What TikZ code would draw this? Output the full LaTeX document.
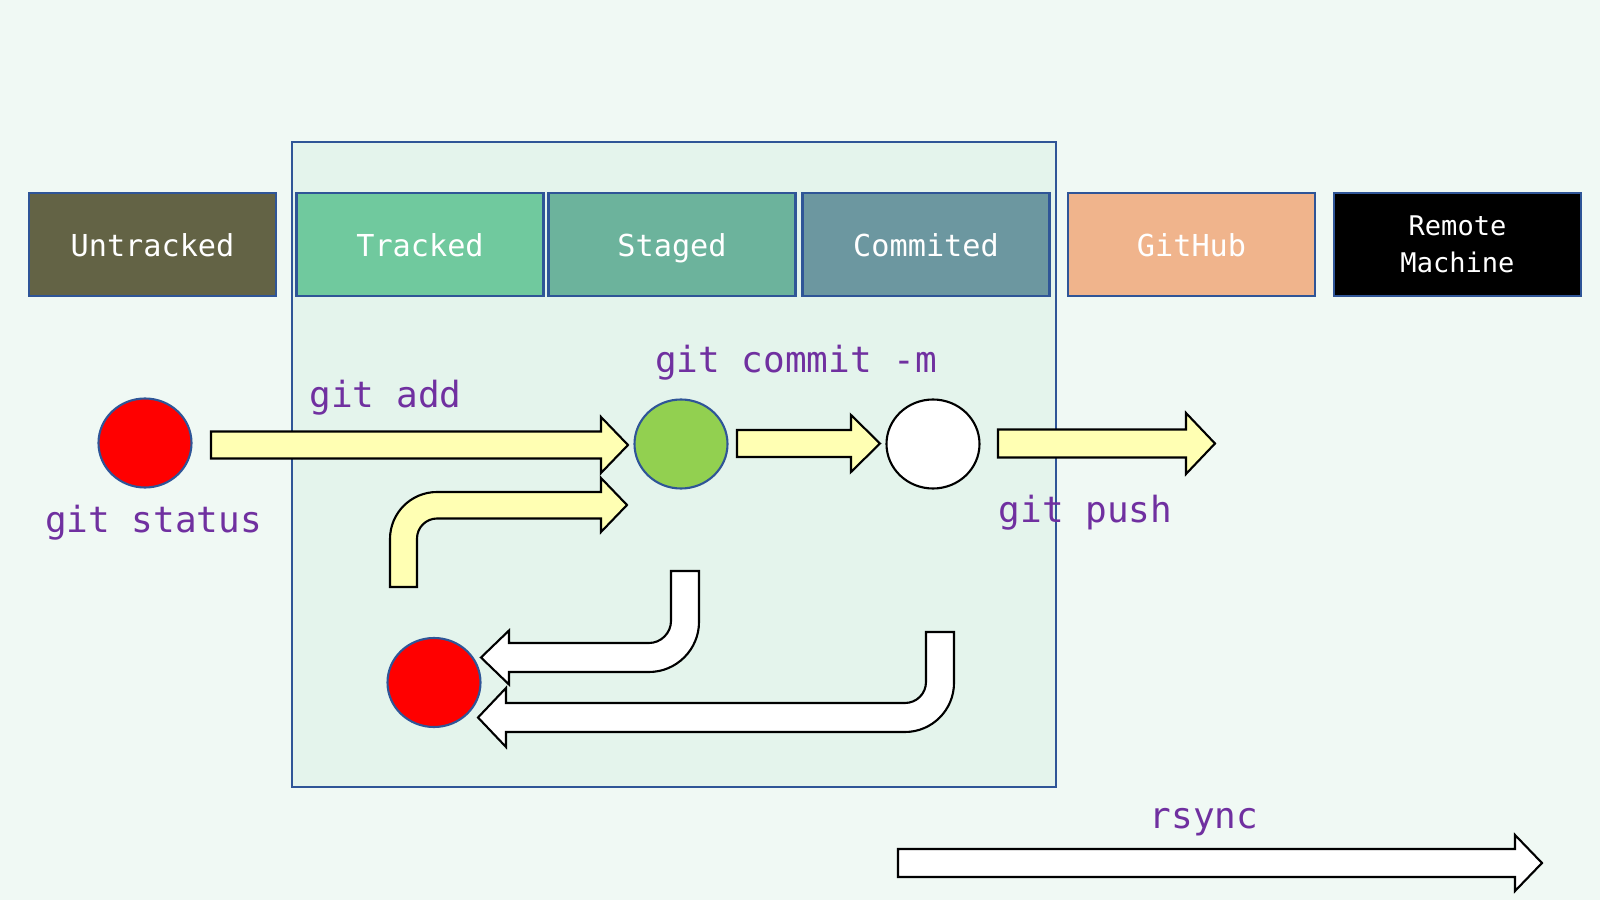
\documentclass[tikz,border=0pt]{standalone}
\usepackage{fontspec}
\setmonofont{DejaVu Sans Mono}
\usepackage{tikz}
\usetikzlibrary{shapes.geometric}

\definecolor{bgmint}{RGB}{240,249,244}
\definecolor{repomint}{RGB}{228,244,236}
\definecolor{boxblue}{RGB}{47,85,151}
\definecolor{untrackedc}{RGB}{99,99,69}
\definecolor{trackedc}{RGB}{112,201,158}
\definecolor{stagedc}{RGB}{108,179,156}
\definecolor{commitedc}{RGB}{108,151,160}
\definecolor{githubc}{RGB}{240,180,140}
\definecolor{cmdpurple}{RGB}{112,48,160}
\definecolor{arrowyellow}{RGB}{255,255,179}
\definecolor{dotgreen}{RGB}{146,208,80}

\tikzset{
  basebox/.style={draw=boxblue, line width=0.6pt, minimum width=24.7mm, minimum height=10.3mm,
    inner sep=0pt, text=white},
  statebox/.style={basebox, text height=1.95ex, text depth=0.4ex, font=\ttfamily\fontsize{8.6}{10}\selectfont},
  filedot/.style={ellipse, draw=boxblue, line width=0.6pt, minimum width=9.3mm, minimum height=8.9mm, inner sep=0pt},
  cmdlabel/.style={text=cmdpurple, font=\ttfamily\fontsize{10.25}{12}\selectfont, inner sep=0pt, anchor=base},
  fwdarrow/.style={draw=black, fill=arrowyellow, line width=0.6pt},
  backarrow/.style={draw=black, fill=white, line width=0.6pt}
}

\begin{document}
\begin{tikzpicture}[x=0.1mm, y=-0.1mm]
\fill[bgmint] (0,0) rectangle (1600,900);
\useasboundingbox (0,0) rectangle (1600,900);

% local repository area
\node[draw=boxblue, fill=repomint, line width=0.6pt, minimum width=76.4mm, minimum height=64.5mm, inner sep=0pt] (repo) at (673.8,464.5) {};

% states
\node[statebox, fill=untrackedc] (untracked) at (152.5,244.5) {Untracked};
\node[statebox, fill=trackedc] (tracked) at (420,244.5) {Tracked};
\node[statebox, fill=stagedc] (staged) at (672,244.5) {Staged};
\node[statebox, fill=commitedc] (commited) at (926,244.5) {Commited};
\node[statebox, fill=githubc] (github) at (1191.5,244.5) {GitHub};
\node[basebox, fill=black, align=center, font=\ttfamily\fontsize{7.7}{10.4}\selectfont] (remote) at (1457.5,244.5) {Remote\\Machine};

% files
\node[filedot, fill=red] (newfile) at (145,443) {};
\node[filedot, fill=dotgreen] (stagedfile) at (681,444) {};
\node[filedot, fill=white, draw=black] (commitfile) at (933,444) {};
\node[filedot, fill=red] (resetfile) at (434,682.5) {};

% forward arrows
\filldraw[fwdarrow] (211,431.5) -- (601,431.5) -- (601,417) -- (628,445) -- (601,473) -- (601,458.5) -- (211,458.5) -- cycle;
\filldraw[fwdarrow] (737,430) -- (851,430) -- (851,415) -- (880,443.5) -- (851,472) -- (851,457) -- (737,457) -- cycle;
\filldraw[fwdarrow] (998,429.5) -- (1186,429.5) -- (1186,413) -- (1215,443.5) -- (1186,474) -- (1186,457.5) -- (998,457.5) -- cycle;
\filldraw[fwdarrow] (390,587) -- (390,539) .. controls (390,513) and (411,492) .. (437,492) -- (601,492) -- (601,478)
  -- (627,505) -- (601,532) -- (601,518.5) -- (437,518.5) .. controls (426,518.5) and (417,527.5) .. (417,538.5) -- (417,587) -- cycle;

% back arrows
\filldraw[backarrow] (671,571) -- (699,571) -- (699,622) .. controls (699,649.5) and (676.5,672) .. (649,672) -- (509,672) -- (509,684.5)
  -- (481,657.5) -- (509,630.5) -- (509,643) -- (649,643) .. controls (661,643) and (671,633) .. (671,621) -- cycle;
\filldraw[backarrow] (926,632) -- (954,632) -- (954,683) .. controls (954,710) and (932,732) .. (905,732) -- (506,732) -- (506,747)
  -- (478,717.5) -- (506,688) -- (506,703) -- (905,703) .. controls (916.6,703) and (926,693.6) .. (926,682) -- cycle;

% rsync
\filldraw[backarrow] (898,849) -- (1515,849) -- (1515,835) -- (1542,863) -- (1515,891) -- (1515,877) -- (898,877) -- cycle;

% commands
\node[cmdlabel] (status) at (153.5,532) {git status};
\node[cmdlabel] (add) at (385.5,408) {git add};
\node[cmdlabel] (commit) at (796,372.5) {git commit -m};
\node[cmdlabel] (push) at (1085.5,523) {git push};
\node[cmdlabel] (rsync) at (1204,828) {rsync};
\end{tikzpicture}
\end{document}
